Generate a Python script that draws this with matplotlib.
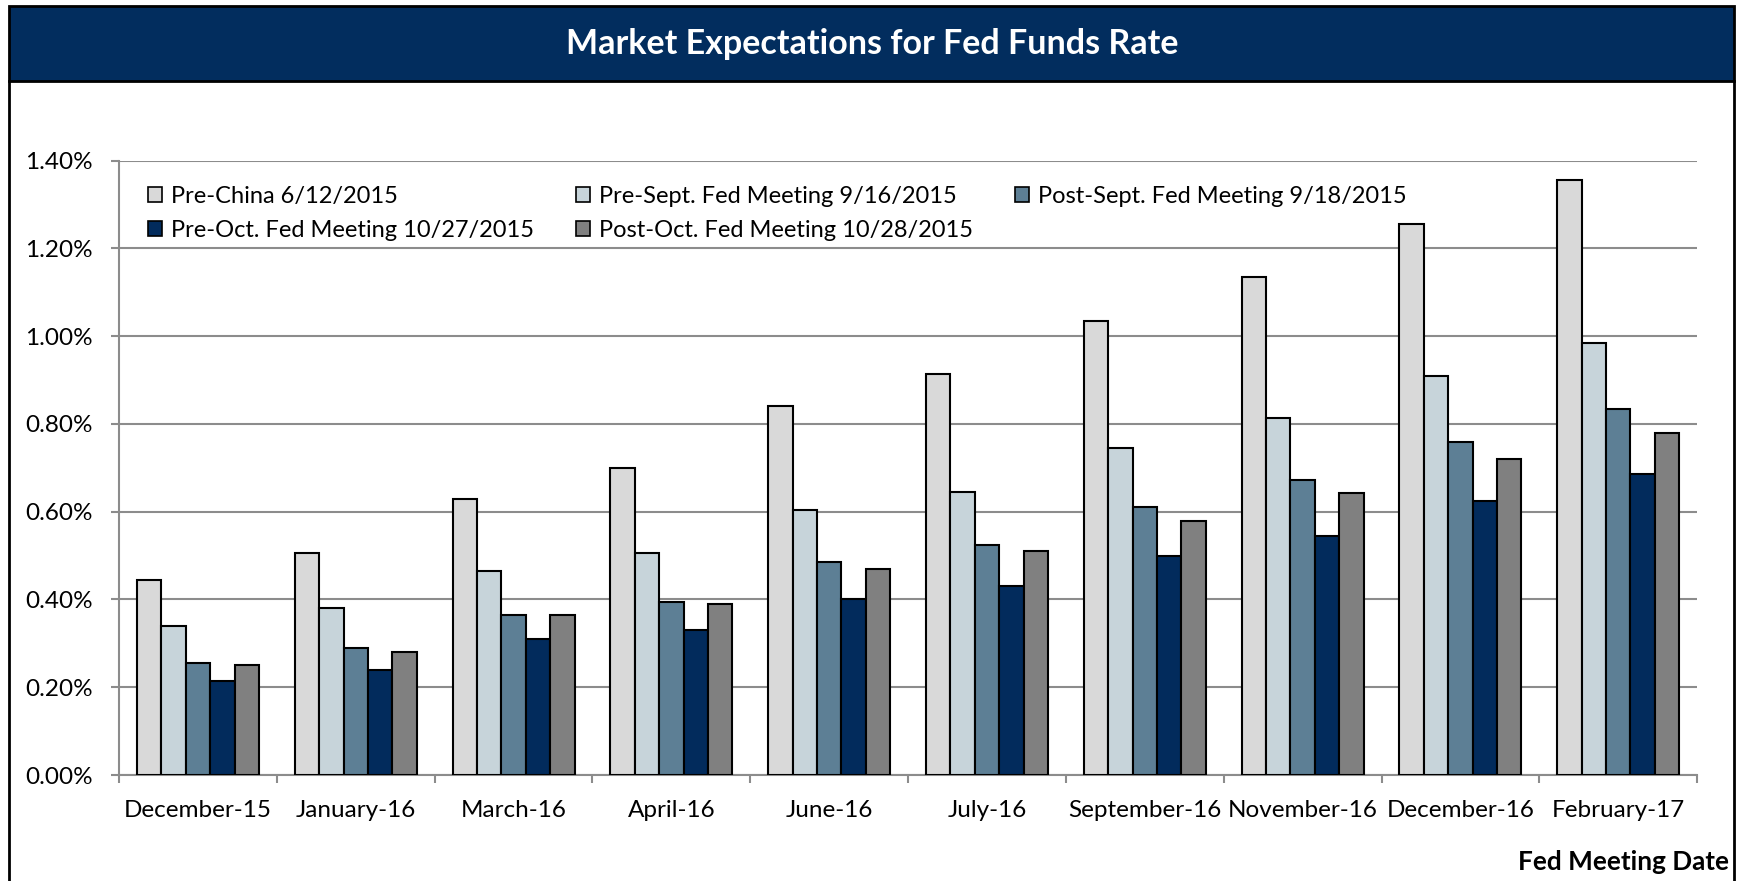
import matplotlib.pyplot as plt
import numpy as np
from matplotlib.patches import Rectangle, Patch
from matplotlib.lines import Line2D
from matplotlib.ticker import FuncFormatter

plt.rcParams['font.family'] = ['Lato', 'DejaVu Sans']

# Data
meetings = ['December-15', 'January-16', 'March-16', 'April-16', 'June-16',
            'July-16', 'September-16', 'November-16', 'December-16', 'February-17']
series_names = ['Pre-China 6/12/2015',
                'Pre-Sept. Fed Meeting 9/16/2015',
                'Post-Sept. Fed Meeting 9/18/2015',
                'Pre-Oct. Fed Meeting 10/27/2015',
                'Post-Oct. Fed Meeting 10/28/2015']
pre_china = [0.445, 0.505, 0.630, 0.700, 0.840, 0.915, 1.035, 1.135, 1.255, 1.355]
pre_sept = [0.340, 0.380, 0.465, 0.505, 0.605, 0.645, 0.745, 0.813, 0.910, 0.985]
post_sept = [0.255, 0.290, 0.365, 0.395, 0.485, 0.525, 0.610, 0.672, 0.760, 0.835]
pre_oct = [0.215, 0.240, 0.310, 0.330, 0.400, 0.430, 0.500, 0.545, 0.625, 0.685]
post_oct = [0.250, 0.280, 0.365, 0.390, 0.470, 0.510, 0.580, 0.642, 0.720, 0.780]
series = [pre_china, pre_sept, post_sept, pre_oct, post_oct]
colors = ['#d9d9d9', '#c7d4da', '#5d7f95', '#022b5c', '#808080']

navy = '#022d5e'
grid_col = '#8c8c8c'

fig = plt.figure(figsize=(17.41, 8.81), dpi=100)
ax = fig.add_axes([0.0684, 0.1203, 0.9064, 0.6973])

x = np.arange(len(meetings))
w = 0.1545
for i, (vals, c) in enumerate(zip(series, colors)):
    ax.bar(x + (i - 2) * w, vals, width=w, color=c, edgecolor='black',
           linewidth=1.5, zorder=3)

ax.set_xlim(-0.5, len(meetings) - 0.5)
ax.set_ylim(0, 1.4)
ax.set_yticks(np.arange(0, 1.41, 0.2))
ax.yaxis.set_major_formatter(FuncFormatter(lambda v, p: f'{v:.2f}%'))
ax.grid(axis='y', color=grid_col, linewidth=1.5, zorder=0)

ax.set_xticks(x)
ax.set_xticklabels(meetings)
ax.set_xticks(np.arange(-0.5, len(meetings)), minor=True)
ax.tick_params(axis='x', which='major', length=0, pad=18, labelsize=17.5)
ax.tick_params(axis='x', which='minor', length=6, width=1.5, color=grid_col)
ax.tick_params(axis='y', length=6, width=1.5, color=grid_col, labelsize=17.5, pad=13)

for s in ['top', 'right']:
    ax.spines[s].set_visible(False)
for s in ['left', 'bottom']:
    ax.spines[s].set_color(grid_col)
    ax.spines[s].set_linewidth(1.5)

# Legend: row-wise ordering in 3 columns
handles = [Patch(facecolor=c, edgecolor='black', linewidth=1.2) for c in colors]
order = [0, 3, 1, 4, 2]
leg = ax.legend([handles[k] for k in order], [series_names[k] for k in order],
                ncol=3, loc='upper left', bbox_to_anchor=(0.005, 0.993),
                frameon=False, fontsize=17, handlelength=0.6, handleheight=0.6,
                handletextpad=0.35, columnspacing=1.8, labelspacing=0.55)
leg.set_zorder(5)

# Title bar and outer frame
fig.patches.append(Rectangle((0.0052, 0.908), 0.9908, 0.085, transform=fig.transFigure,
                             facecolor=navy, edgecolor='black', linewidth=2))
fig.text(0.501, 0.950, 'Market Expectations for Fed Funds Rate', color='white',
         fontsize=24.5, fontweight='bold', ha='center', va='center')
fig.add_artist(Line2D([0.0052, 0.0052], [0, 0.908], transform=fig.transFigure,
                      color='black', linewidth=2))
fig.add_artist(Line2D([0.996, 0.996], [0, 0.908], transform=fig.transFigure,
                      color='black', linewidth=2))

fig.text(0.993, 0.021, 'Fed Meeting Date', fontsize=18.8, fontweight='bold',
         ha='right', va='center')

fig.savefig('out.png', dpi=100, facecolor='white')
